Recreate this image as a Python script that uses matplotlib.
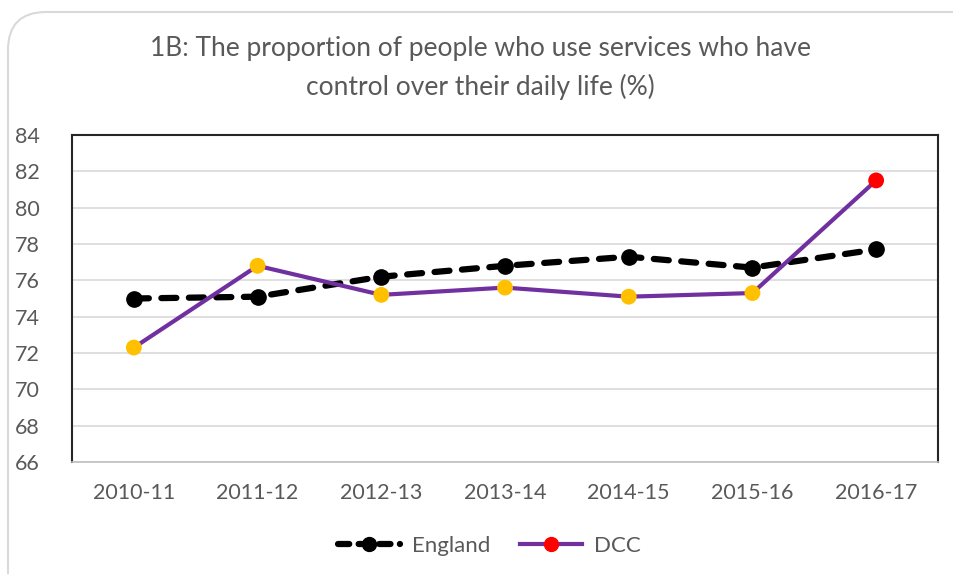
import matplotlib
matplotlib.use('Agg')
import matplotlib.pyplot as plt
from matplotlib.lines import Line2D
from matplotlib.patches import FancyBboxPatch

# Data
years = ['2010-11', '2011-12', '2012-13', '2013-14', '2014-15', '2015-16', '2016-17']
england = [75.0, 75.1, 76.2, 76.8, 77.3, 76.7, 77.7]
dcc = [72.3, 76.8, 75.2, 75.6, 75.1, 75.3, 81.5]
dcc_colors = ['#FFC000'] * 6 + ['#FF0000']
yticks = [66, 68, 70, 72, 74, 76, 78, 80, 82, 84]

plt.rcParams['font.family'] = ['Lato', 'DejaVu Sans']
grey = '#595959'

fig = plt.figure(figsize=(9.54, 5.74), dpi=100)

# rounded chart border
border = FancyBboxPatch((8 / 954, -0.1), 1.1, 1.0 - 12 / 574 + 0.1,
                        boxstyle='round,pad=0,rounding_size=0.04',
                        transform=fig.transFigure, fc='none', ec='#d9d9d9', lw=1.5,
                        mutation_aspect=954 / 574, zorder=-1)
fig.patches.append(border)

ax = fig.add_axes([72 / 954, 112 / 574, 866 / 954, 327 / 574])
x = range(len(years))

ax.plot(x, england, color='black', lw=4.5, linestyle=(0, (2.4, 2.0)),
        dash_capstyle='round', marker='o', markersize=11, zorder=3)
ax.plot(x, dcc, color='#7030A0', lw=3, zorder=4)
ax.scatter(x, dcc, s=130, c=dcc_colors, zorder=5, linewidths=0)

ax.set_xlim(-0.5, len(years) - 0.5)
ax.set_ylim(66, 84)
ax.set_yticks(yticks)
ax.set_xticks(list(x))
ax.set_xticklabels(years)
ax.grid(axis='y', color='#d9d9d9', lw=1.2)
ax.set_axisbelow(True)
ax.tick_params(length=0, labelsize=15.5, colors=grey)
ax.tick_params(axis='y', pad=23)
ax.tick_params(axis='x', pad=15)
for s in ['left', 'top', 'right']:
    ax.spines[s].set_color('#262626')
    ax.spines[s].set_linewidth(1.5)
ax.spines['bottom'].set_color('#bfbfbf')
ax.spines['bottom'].set_linewidth(1.2)

fig.text(0.504, 1 - 68 / 574,
         '1B: The proportion of people who use services who have\ncontrol over their daily life (%)',
         ha='center', va='center', fontsize=19, color=grey, linespacing=1.6)

handles = [
    Line2D([], [], color='black', lw=4.5, linestyle=(0, (1.8, 1.5)), dash_capstyle='round',
           marker='o', markersize=10),
    Line2D([], [], color='#7030A0', lw=3, marker='o', markersize=10,
           markerfacecolor='#FF0000', markeredgecolor='#FF0000'),
]
fig.legend(handles, ['England', 'DCC'], loc='center', bbox_to_anchor=(0.513, 1 - 546 / 574),
           ncol=2, frameon=False, fontsize=16, labelcolor=grey, handlelength=2.8,
           columnspacing=1.3, handletextpad=0.55)

fig.savefig('out.png', dpi=100)
